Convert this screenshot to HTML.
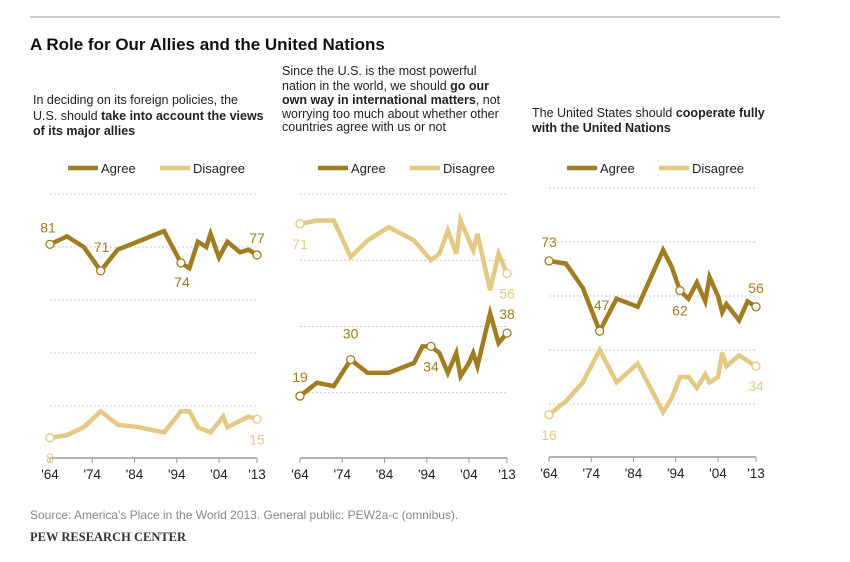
<!DOCTYPE html>
<html><head><meta charset="utf-8"><style>
body{margin:0;background:#fff;font-family:"Liberation Sans",sans-serif;}
</style></head><body>
<svg id="c" width="850" height="557" style="font-family:'Liberation Sans',sans-serif">
<line x1="30" y1="17" x2="780" y2="17" stroke="#999" stroke-width="1"/>
<text x="30" y="50" font-size="17" font-weight="bold" fill="#111">A Role for Our Allies and the United Nations</text>
<g font-size="12.5" fill="#222">
<text x="33" y="104">In deciding on its foreign policies, the</text>
<text x="33" y="120">U.S. should <tspan font-weight="bold">take into account the views</tspan></text>
<text x="33" y="135"><tspan font-weight="bold">of its major allies</tspan></text>
</g>
<g font-size="12.5" fill="#222">
<text x="282" y="75">Since the U.S. is the most powerful</text>
<text x="282" y="90">nation in the world, we should <tspan font-weight="bold">go our</tspan></text>
<text x="282" y="104"><tspan font-weight="bold">own way in international matters</tspan>, not</text>
<text x="282" y="118">worrying too much about whether other</text>
<text x="282" y="131">countries agree with us or not</text>
</g>
<g font-size="12.5" fill="#222">
<text x="532" y="117">The United States should <tspan font-weight="bold">cooperate fully</tspan></text>
<text x="532" y="132"><tspan font-weight="bold">with the United Nations</tspan></text>
</g>
<text x="30" y="519" font-size="12" fill="#888">Source: America's Place in the World 2013. General public: PEW2a-c (omnibus).</text>
<text x="30" y="541" font-size="12.5" font-weight="bold" fill="#333" style="font-family:'Liberation Serif',serif">PEW RESEARCH CENTER</text>
</svg>
<script>
const p1AgreeYears=[1964,1968,1972,1976,1980,1991,1995,1997,1999,2001,2002,2004,2006,2009,2011,2013];
const p1AgreeVals=[81,84,80,71,79,86,74,72,82,80,85,76,82,78,79,77];
const p1DisYears=[1964,1968,1972,1976,1980,1985,1991,1993,1995,1997,1999,2002,2005,2006,2011,2013];
const p1DisVals=[8,9,12,18,13,12,10,14,18,18,12,10,16,12,16,15];
const p2Years=[1964,1968,1972,1976,1980,1985,1991,1993,1995,1997,1999,2001,2002,2004,2005,2006,2009,2011,2013];
const p2AgreeVals=[19,23,22,30,26,26,29,34,34,32,26,32,25,29,32,28,44,35,38];
const p2DisYears=[1964,1968,1972,1976,1980,1985,1991,1995,1997,1999,2001,2002,2005,2006,2009,2011,2013];
const p2DisVals=[71,72,72,61,66,70,66,60,62,69,62,72,63,68,51,62,56];
const p3Years=[1964,1968,1972,1976,1980,1985,1991,1993,1995,1997,1999,2001,2002,2004,2005,2006,2009,2011,2013];
const p3AgreeVals=[73,72,63,47,59,56,77,71,62,59,65,58,67,60,54,57,51,58,56];
const p3DisYears=[1964,1968,1972,1976,1980,1985,1991,1993,1995,1997,1999,2001,2002,2004,2005,2006,2009,2013];
const p3DisVals=[16,21,28,40,28,35,17,22,30,30,26,31,28,30,39,34,38,34];
const tickLabels=["'64","'74","'84","'94","'04","'13"];
const tickYears=[1964,1974,1984,1994,2004,2013];
const AG="#a27c20",DI="#e3c983";
const svg=document.getElementById('c');const NS="http://www.w3.org/2000/svg";
function mk(t,a,p){const e=document.createElementNS(NS,t);for(const k in a)e.setAttribute(k,a[k]);(p||svg).appendChild(e);return e;}
const panels=[
 {x0:50,top:194,bot:459,max:100,grid:[20,40,60,80,100],ser:[[p1AgreeYears,p1AgreeVals,AG],[p1DisYears,p1DisVals,DI]],
  labels:[[1964,81,AG,-2,-12,'81'],[1976,71,AG,1,-19,'71'],[1995,74,AG,1,24,'74'],[2013,77,AG,0,-12,'77'],[2013,15,DI,0,25,'15'],[1964,8,DI,0,25,'8']],
  circ:[[p1AgreeYears,p1AgreeVals,[0,3,6,15]],[p1DisYears,p1DisVals,[0,15]]],leg:68},
 {x0:300,top:194,bot:459,max:80,grid:[20,40,60,80],ser:[[p2DisYears,p2DisVals,DI],[p2Years,p2AgreeVals,AG]],
  labels:[[1964,71,DI,0,25,'71'],[2013,56,DI,0,25,'56'],[1976,30,AG,0,-21,'30'],[1964,19,AG,0,-14,'19'],[1995,34,AG,0,25,'34'],[2013,38,AG,0,-14,'38']],
  circ:[[p2DisYears,p2DisVals,[0,16]],[p2Years,p2AgreeVals,[0,3,8,18]]],leg:318},
 {x0:549,top:188,bot:458,max:100,grid:[20,40,60,80,100],ser:[[p3Years,p3AgreeVals,AG],[p3DisYears,p3DisVals,DI]],
  labels:[[1964,73,AG,0,-14,'73'],[1976,47,AG,2,-21,'47'],[1995,62,AG,0,25,'62'],[2013,56,AG,0,-14,'56'],[1964,16,DI,0,25,'16'],[2013,34,DI,0,25,'34']],
  circ:[[p3Years,p3AgreeVals,[0,3,8,18]],[p3DisYears,p3DisVals,[0,17]]],leg:567}
];
panels.forEach((P,pi)=>{
 const X=y=>P.x0+(y-1964)*(207/49);
 const Y=v=>P.bot-(v/P.max)*(P.bot-P.top);
 const g=mk('g',{});
 
 
 P.grid.forEach(v=>{const l=mk('line',{x1:P.x0,x2:P.x0+207,y1:Y(v),y2:Y(v),stroke:'#bbb','stroke-dasharray':'2,2','stroke-width':0.8},g);
  
  });
 const ax=mk('line',{x1:P.x0,x2:P.x0+207,y1:P.bot-1,y2:P.bot-1,stroke:'#999','stroke-width':1.5},g);
 
 
 tickYears.forEach((t,i)=>{mk('line',{x1:X(t),x2:X(t),y1:P.bot-1,y2:P.bot+4,stroke:'#999'},g);
  const tx=mk('text',{x:X(t),y:P.bot+20,'font-size':13.5,'text-anchor':'middle',fill:'#222'},g);tx.textContent=tickLabels[i];
  
  });
 P.ser.forEach(([ys,vs,c])=>{const pl=mk('polyline',{points:ys.map((y,i)=>X(y)+','+Y(vs[i])).join(' '),fill:'none',stroke:c,'stroke-width':4.5,'stroke-linejoin':'miter'},g);
  
  });
 P.circ.forEach(([ys,vs,idx],k)=>idx.forEach(i=>{const c=mk('circle',{cx:X(ys[i]),cy:Y(vs[i]),r:4,fill:'#fff',stroke:P.ser[k][2],'stroke-width':1.3},g);
  
  }));
 P.labels.forEach(([y,v,c,dx,dy,t])=>{const tx=mk('text',{x:X(y)+dx,y:Y(v)+dy,'font-size':14,'text-anchor':'middle',fill:c},g);tx.textContent=t;
  
  });
 const L=P.leg;
 [[AG,'Agree',0],[DI,'Disagree',92]].forEach(([c,t,o])=>{
  const l=mk('line',{x1:L+o,x2:L+o+30,y1:168,y2:168,stroke:c,'stroke-width':4.5},g);
  
  
  const tx=mk('text',{x:L+o+33,y:173,'font-size':13,fill:'#222'},g);tx.textContent=t;
  
  });
});
</script>
</body></html>
